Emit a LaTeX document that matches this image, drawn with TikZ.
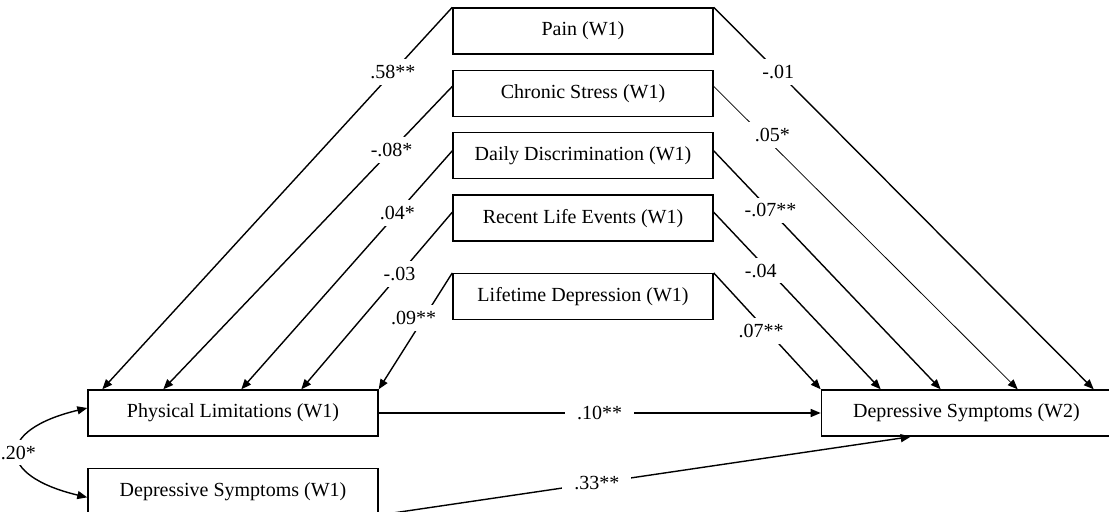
\documentclass[tikz,border=0pt]{standalone}
\usepackage{fontspec}
\setmainfont{Liberation Serif}
\usetikzlibrary{arrows.meta, positioning}

\begin{document}
\begin{tikzpicture}[
      x=0.5pt, y=-0.5pt,
      line width=0.7pt,
      >={Triangle[length=5pt, width=4pt]},
      box/.style={rectangle, draw, minimum width=130pt, minimum height=23pt, inner sep=0pt},
      wide/.style={box, minimum width=145pt},
      lbl/.style={fill=white, inner xsep=6pt, inner ysep=3pt}
    ]
      \useasboundingbox (0,0) rectangle (1109,512);

      % middle column
      \node[box] (pain) at (583,31) {Pain (W1)};
      \node[box, below=7.5pt of pain] (chronic) {Chronic Stress (W1)};
      \node[box, below=7.5pt of chronic] (daily) {Daily Discrimination (W1)};
      \node[box, below=7.5pt of daily] (recent) {Recent Life Events (W1)};
      \node[box, below=15.5pt of recent] (life) {Lifetime Depression (W1)};

      % bottom row
      \node[wide] (pl) at (233,413) {Physical Limitations (W1)};
      \node[wide, below=15.5pt of pl] (ds1) {Depressive Symptoms (W1)};
      \node[wide, right=221pt of pl] (ds2) {Depressive Symptoms (W2)};

      % to physical limitations
      \draw[->] (pain.north west) -- node[lbl, pos=.17] {.58**} ([xshift=7.5pt]pl.north west);
      \draw[->] ([yshift=3.5pt]chronic.west) -- node[lbl, pos=.21] {-.08*} ([xshift=38pt]pl.north west);
      \draw[->] ([yshift=2.5pt]daily.west) -- node[lbl, pos=.26] {.04*} ([xshift=77pt]pl.north west);
      \draw[->] ([yshift=3pt]recent.west) -- node[lbl, pos=.35] {-.03} ([xshift=107pt]pl.north west);
      \draw[->] (life.north west) -- node[lbl, pos=.39, xshift=-5pt] {.09**} (pl.north east);

      % to depressive symptoms (W2)
      \draw[->] (pain.north east) -- node[lbl, pos=.17] {-.01} ([xshift=136.5pt]ds2.north west);
      \draw[->, line width=0.4pt] ([yshift=3.5pt]chronic.east) -- node[lbl, pos=.16, xshift=5pt] {.05*} ([xshift=98.5pt]ds2.north west);
      \draw[->] ([yshift=2.5pt]daily.east) -- node[lbl, pos=.25] {-.07**} ([xshift=60pt]ds2.north west);
      \draw[->] ([yshift=3pt]recent.east) -- node[lbl, pos=.33, xshift=-4pt] {-.04} ([xshift=30pt]ds2.north west);
      \draw[->] (life.north east) -- node[lbl, pos=.5, xshift=-3pt] {.07**} (ds2.north west);

      \draw[->] (pl) -- node[lbl] {.10**} (ds2);
      \draw[->] (ds1.south east) -- node[lbl, pos=.41] {.33**} ([xshift=45pt]ds2.south west);

      % covariance
      \draw[<->] ([yshift=2.5pt]pl.west) .. controls +(-92,22) and +(-92,-22) .. ([yshift=-3pt]ds1.west)
        node[lbl, pos=.5, inner xsep=1pt] {.20*};
    \end{tikzpicture}
\end{document}
